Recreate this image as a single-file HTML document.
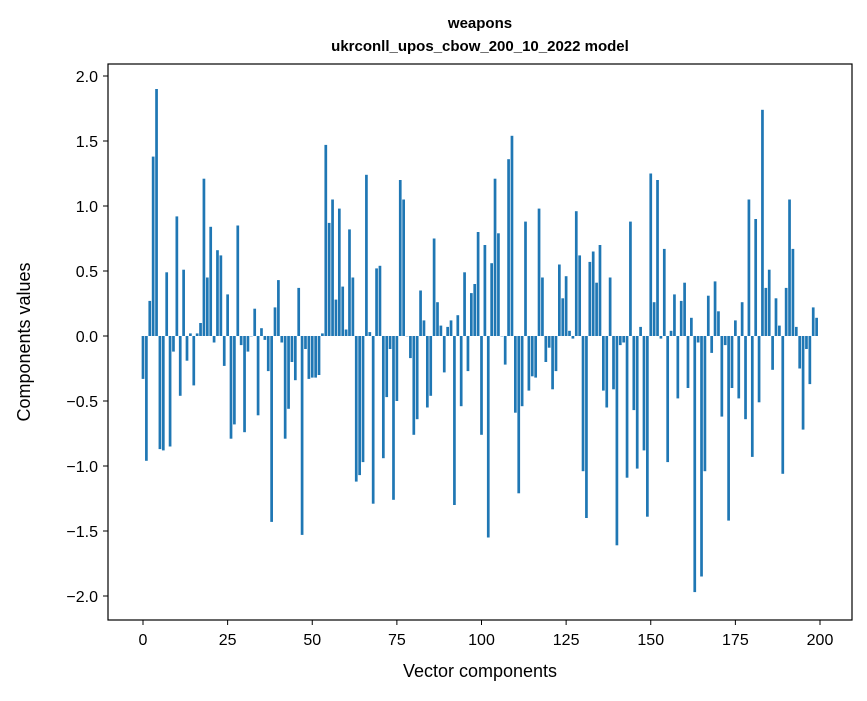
<!DOCTYPE html>
<html><head><meta charset="utf-8"><style>
body{margin:0;background:#fff;font-family:"Liberation Sans",sans-serif;}
</style></head><body>
<svg id="chart" width="867" height="696" xmlns="http://www.w3.org/2000/svg">
<rect x="0" y="0" width="867" height="696" fill="#fff"/>
<text x="480" y="28" text-anchor="middle" font-size="15" font-weight="bold">weapons</text>
<text x="480" y="51" text-anchor="middle" font-size="15" font-weight="bold">ukrconll_upos_cbow_200_10_2022 model</text>
<g id="bars"></g>
<rect x="108" y="64" width="744" height="556" fill="none" stroke="#000" stroke-width="1.2"/>
<g id="xticks"></g>
<g id="yticks"></g>
<text x="480" y="677" text-anchor="middle" font-size="18">Vector components</text>
<text transform="translate(30,342) rotate(-90)" text-anchor="middle" font-size="18">Components values</text>
</svg>
<script>
const values=[-0.33,-0.96,0.27,1.38,1.90,-0.87,-0.88,0.49,-0.85,-0.12,0.92,-0.46,0.51,-0.19,0.02,-0.38,0.02,0.10,1.21,0.45,0.84,-0.05,0.66,0.62,-0.23,0.32,-0.79,-0.68,0.85,-0.07,-0.74,-0.12,0.00,0.21,-0.61,0.06,-0.03,-0.27,-1.43,0.22,0.43,-0.05,-0.79,-0.56,-0.20,-0.34,0.37,-1.53,-0.10,-0.33,-0.32,-0.32,-0.30,0.02,1.47,0.87,1.05,0.28,0.98,0.38,0.05,0.82,0.45,-1.12,-1.07,-0.97,1.24,0.03,-1.29,0.52,0.54,-0.94,-0.47,-0.10,-1.26,-0.50,1.20,1.05,0.00,-0.17,-0.76,-0.64,0.35,0.12,-0.55,-0.46,0.75,0.26,0.08,-0.28,0.07,0.12,-1.30,0.16,-0.54,0.49,-0.27,0.33,0.40,0.80,-0.76,0.70,-1.55,0.56,1.21,0.79,0.00,-0.22,1.36,1.54,-0.59,-1.21,-0.54,0.88,-0.42,-0.31,-0.32,0.98,0.45,-0.20,-0.09,-0.41,-0.27,0.55,0.29,0.46,0.04,-0.02,0.96,0.62,-1.04,-1.40,0.57,0.65,0.41,0.70,-0.42,-0.55,0.45,-0.41,-1.61,-0.07,-0.05,-1.09,0.88,-0.57,-1.02,0.07,-0.88,-1.39,1.25,0.26,1.20,-0.02,0.67,-0.97,0.04,0.32,-0.48,0.27,0.41,-0.40,0.14,-1.97,-0.05,-1.85,-1.04,0.31,-0.13,0.42,0.19,-0.62,-0.07,-1.42,-0.40,0.12,-0.48,0.26,-0.64,1.05,-0.93,0.90,-0.51,1.74,0.37,0.51,-0.26,0.29,0.08,-1.06,0.37,1.05,0.67,0.07,-0.25,-0.72,-0.10,-0.37,0.22,0.14];
const xTickLabels=[0,25,50,75,100,125,150,175,200];
const yTickLabels=[-2.0,-1.5,-1.0,-0.5,0.0,0.5,1.0,1.5,2.0];
const NS="http://www.w3.org/2000/svg";
function xs(v){return 143+v*3.385;}
function ys(v){return 336-v*130;}
const bars=document.getElementById('bars');
values.forEach((v,i)=>{
  const r=document.createElementNS(NS,'rect');
  const y0=Math.min(ys(0),ys(v)),h=Math.abs(ys(v)-ys(0));
  r.setAttribute('x',xs(i-0.4));r.setAttribute('width',3.385*0.8);
  r.setAttribute('y',y0);r.setAttribute('height',Math.max(h,0.3));
  r.setAttribute('fill','#1f77b4');
  
  
  bars.appendChild(r);
});
const xt=document.getElementById('xticks');
xTickLabels.forEach(t=>{
  const l=document.createElementNS(NS,'line');
  l.setAttribute('x1',xs(t));l.setAttribute('x2',xs(t));l.setAttribute('y1',620);l.setAttribute('y2',625);l.setAttribute('stroke','#000');
  
  
  xt.appendChild(l);
  const tx=document.createElementNS(NS,'text');
  tx.setAttribute('x',xs(t));tx.setAttribute('y',645);tx.setAttribute('text-anchor','middle');tx.setAttribute('font-size','16');
  tx.textContent=t;
  
  
  xt.appendChild(tx);
});
const yt=document.getElementById('yticks');
yTickLabels.forEach(t=>{
  const l=document.createElementNS(NS,'line');
  l.setAttribute('x1',103);l.setAttribute('x2',108);l.setAttribute('y1',ys(t));l.setAttribute('y2',ys(t));l.setAttribute('stroke','#000');
  
  
  yt.appendChild(l);
  const tx=document.createElementNS(NS,'text');
  tx.setAttribute('x',98);tx.setAttribute('y',ys(t)+6);tx.setAttribute('text-anchor','end');tx.setAttribute('font-size','16');
  tx.textContent=(t<0?'\u2212':'')+Math.abs(t).toFixed(1);
  
  
  yt.appendChild(tx);
});
</script>
</body></html>
